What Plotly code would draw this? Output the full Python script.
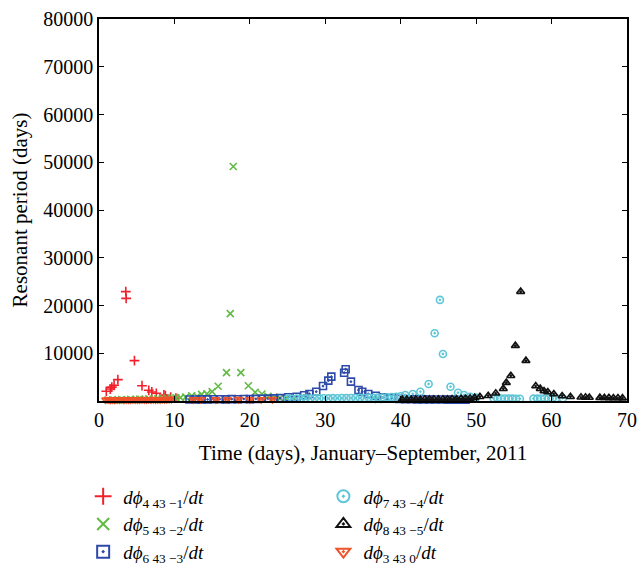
import plotly.graph_objects as go

# Resonant period series (days) vs. time (days) for each resonance argument
x_41 = [0.97, 1.5, 1.7, 2.0, 2.5, 3.55, 3.6, 4.7, 5.7, 6.6, 7.0, 7.6, 8.6, 8.8, 9.5, 10.2]
y_41 = [2030, 2500, 2900, 3300, 4470, 22900, 21500, 8450, 3200, 2240, 1890, 1610, 1260, 1110, 800, 600]

x_52 = [1.2, 1.8, 2.4, 3.0, 3.6, 4.2, 4.8, 5.4, 6.0, 6.6, 7.2, 7.8, 8.4, 9.0, 9.6, 10.2,
        10.8, 11.5, 12.3, 13.0, 13.6, 14.3, 15.0, 15.8, 16.9, 17.4, 17.8, 18.8, 19.8, 20.7,
        21.6, 22.4, 23.2, 24.0, 25.0, 26.0, 37.0]
y_52 = [200, 250, 180, 300, 220, 350, 280, 400, 320, 450, 380, 500, 420, 600, 520, 650,
        700, 800, 1100, 1000, 1400, 1500, 1950, 3100, 5930, 18300, 49100, 5930, 3200, 1820,
        1470, 1000, 800, 600, 500, 400, 300]

x_63 = [12.0, 12.8, 13.6, 14.4, 15.2, 16.0, 16.8, 17.6, 18.4, 19.2, 20.0, 20.8, 21.6, 22.4,
        23.2, 24.0, 25.1, 26.2, 27.2, 27.9, 28.8, 29.7, 30.4, 30.8, 32.5, 32.7, 33.4, 34.4,
        34.9, 35.7, 36.7, 37.7, 38.8, 39.8, 40.6, 41.4, 42.2, 43.0, 43.8, 44.6, 45.4, 46.2,
        47.0, 47.8, 48.6]
y_63 = [300, 320, 350, 330, 360, 380, 350, 400, 380, 420, 400, 450, 480, 500,
        550, 600, 780, 900, 1200, 1470, 1950, 3140, 4260, 5100, 5930, 6650, 4050, 2300,
        1950, 1470, 1110, 780, 600, 450, 400, 380, 350, 330, 320, 300, 300, 280,
        280, 260, 250]

x_74 = [25.0, 25.6, 26.2, 26.8, 27.4, 28.0, 28.6, 29.2, 29.8, 30.4, 31.0, 31.6, 32.2, 32.8,
        33.4, 34.0, 34.6, 35.2, 35.8, 36.4, 37.0, 37.6, 38.2, 38.8, 39.4, 40.0, 40.6, 41.6,
        42.6, 43.7, 44.5, 45.2, 45.6, 46.6, 47.6, 48.4, 49.2, 50.0, 52.3, 52.8, 53.3, 53.8,
        54.3, 54.8, 55.3, 55.8, 57.6, 58.1, 58.6, 59.1, 59.6, 60.1, 60.6, 61.5]
y_74 = [500, 480, 520, 500, 550, 520, 560, 540, 580, 560, 600, 580, 620, 600,
        640, 620, 660, 640, 700, 680, 740, 720, 800, 850, 900, 1000, 1260, 1470,
        1950, 3560, 14190, 21170, 9850, 3000, 1740, 1260, 900, 700, 560, 540, 520, 520,
        500, 500, 480, 480, 500, 500, 520, 520, 540, 540, 560, 580]

x_85 = [40.2, 40.8, 41.4, 42.0, 42.6, 43.2, 43.8, 44.4, 45.0, 45.6, 46.2, 46.8, 47.4, 48.0,
        48.6, 49.2, 49.8, 50.5, 51.6, 52.6, 53.6, 54.0, 54.6, 55.2, 55.9, 56.6, 57.9, 58.5,
        59.0, 59.5, 60.3, 61.4, 62.5, 63.9, 64.5, 65.0, 66.4, 67.0, 67.6, 68.2, 68.8, 69.4]
y_85 = [300, 320, 310, 330, 320, 340, 330, 350, 340, 360, 380, 400, 420, 450,
        500, 550, 700, 900, 1110, 1610, 2580, 3840, 5300, 11590, 22910, 8450, 3140, 2580,
        2100, 1890, 1470, 1050, 900, 780, 760, 740, 700, 680, 660, 640, 620, 600]

x_30 = [0.9, 1.2, 1.5, 1.8, 2.1, 2.4, 2.7, 3.0, 3.3, 3.6, 3.9, 4.2, 4.5, 4.8, 5.1, 5.4,
        5.7, 6.0, 6.3, 6.6, 6.9, 7.2, 7.5, 7.8, 8.1, 8.4, 8.7, 9.0, 9.3, 9.6, 12.5, 13.5,
        15.5, 17.0, 18.5, 20.0, 21.5, 23.0]
y_30 = [250, 300, 220, 280, 240, 300, 260, 320, 240, 280, 300, 260, 320, 280, 300, 260,
        340, 300, 280, 320, 300, 340, 280, 320, 300, 360, 320, 340, 380, 360, 300, 320,
        300, 320, 340, 300, 320, 340]

x_ticks = [0, 10, 20, 30, 40, 50, 60, 70]
y_ticks = [10000, 20000, 30000, 40000, 50000, 60000, 70000, 80000]

SERIF = "Liberation Serif"

def label(a, b):
    return f"<i>dϕ</i><sub>{a} 43 {b}</sub>/<i>dt</i>"

series = [
    # x, y, name, symbol, color, size, legend
    (x_41, y_41, label(4, "−1"), "cross-thin", "#f2202c", 7, "legend"),
    (x_52, y_52, label(5, "−2"), "x-thin", "#62bb44", 7, "legend"),
    (x_63, y_63, label(6, "−3"), "square-open-dot", "#2e4aa8", 7, "legend"),
    (x_74, y_74, label(7, "−4"), "circle-open-dot", "#5ec6d6", 7, "legend2"),
    (x_85, y_85, label(8, "−5"), "triangle-up-open-dot", "#111111", 7, "legend2"),
    (x_30, y_30, label(3, "0"), "triangle-down-open-dot", "#f0522a", 7, "legend2"),
]

fig = go.Figure()
for xs, ys, name, sym, col, sz, lg in series:
    fig.add_trace(go.Scatter(
        x=xs, y=ys, mode="markers", name=name, legend=lg, cliponaxis=False,
        marker=dict(symbol=sym, size=sz, color=col,
                    line=dict(color=col, width=1.6)),
    ))

axis_common = dict(
    showline=True, linecolor="black", linewidth=1.5, mirror="ticks",
    ticks="inside", ticklen=5, tickwidth=1.2, tickcolor="black",
    showgrid=False, zeroline=False,
    tickfont=dict(family=SERIF, size=20, color="black"),
)

legend_common = dict(
    xanchor="left", yanchor="top", y=-0.20,
    font=dict(family=SERIF, size=19), bgcolor="rgba(0,0,0,0)",
    itemsizing="constant",
)

fig.update_layout(
    width=639, height=565,
    margin=dict(l=99, r=12, t=19, b=164, autoexpand=False),
    paper_bgcolor="white", plot_bgcolor="white",
    font=dict(family=SERIF, size=20, color="black"),
    xaxis=dict(range=[0, 70], tickvals=x_ticks, ticktext=[str(v) for v in x_ticks],
               **axis_common,
               title=dict(text="Time (days), January–September, 2011",
                          font=dict(family=SERIF, size=21), standoff=16)),
    yaxis=dict(range=[0, 80000], tickvals=y_ticks, ticktext=[str(v) for v in y_ticks],
               **axis_common,
               title=dict(text="Resonant period (days)",
                          font=dict(family=SERIF, size=21), standoff=10)),
    legend=dict(x=-0.03, **legend_common),
    legend2=dict(x=0.425, **legend_common),
    showlegend=True,
)

fig.write_html("out.html")
